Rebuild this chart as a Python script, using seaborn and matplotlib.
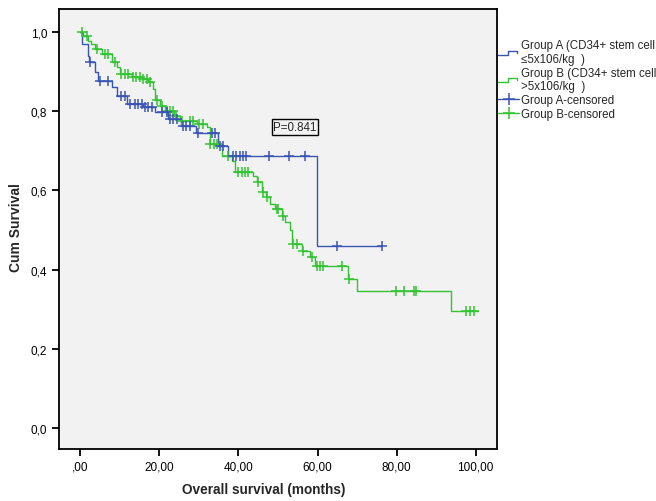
import numpy as np
import pandas as pd
import matplotlib
matplotlib.use("Agg")
import matplotlib.pyplot as plt
from matplotlib.lines import Line2D
from matplotlib.legend_handler import HandlerBase
import seaborn as sns

# ---------------- data ----------------
# Group A: step times and survival after each step
a_times = [0.0, 0.3, 2.0, 2.3, 3.7, 4.5, 7.9, 9.2, 11.7, 15.9, 18.9, 22.2, 25.5,
           29.2, 34.9, 37.4, 59.8, 76.3]
a_surv = [1.0, 0.97, 0.94, 0.923, 0.90, 0.877, 0.861, 0.839, 0.818, 0.810, 0.797,
          0.780, 0.763, 0.745, 0.713, 0.687, 0.459, 0.459]
a_cens = [2.4, 4.9, 7.0, 10.4, 11.3, 12.5, 13.8, 14.6, 15.5, 16.3, 17.2, 18.0,
          20.6, 21.8, 22.7, 23.5, 24.4, 26.0, 26.8, 27.7, 29.8, 33.2, 34.0, 35.3,
          36.0, 38.6, 39.4, 40.4, 41.2, 42.0, 47.7, 52.8, 56.8, 65.0, 76.3]

# Group B
b_times = [0.0, 0.7, 2.0, 2.8, 3.6, 5.4, 7.9, 9.2, 10.0, 13.0, 15.5, 17.2, 18.4,
           18.9, 20.1, 21.4, 23.8, 25.2, 29.5, 32.0, 32.8, 35.8, 38.3, 39.1, 43.7,
           44.6, 45.9, 47.0, 48.0, 49.3, 51.0, 51.8, 53.0, 53.5, 56.0, 58.1, 59.4,
           67.8, 69.9, 93.8, 100.5]
b_surv = [1.0, 0.99, 0.978, 0.97, 0.957, 0.944, 0.923, 0.911, 0.894, 0.886, 0.881,
          0.873, 0.856, 0.827, 0.814, 0.800, 0.789, 0.776, 0.767, 0.759, 0.717,
          0.688, 0.675, 0.646, 0.637, 0.620, 0.595, 0.583, 0.566, 0.553, 0.536,
          0.519, 0.500, 0.465, 0.448, 0.431, 0.410, 0.376, 0.345, 0.296, 0.296]
b_cens = [0.3, 1.6, 4.1, 6.2, 7.0, 8.7, 10.4, 11.2, 12.1, 13.3, 14.2, 15.0, 15.8,
          16.8, 17.6, 19.3, 20.6, 21.8, 22.6, 23.5, 24.2, 25.6, 27.7, 28.5, 30.0,
          31.0, 32.9, 33.7, 34.5, 37.3, 40.0, 40.8, 41.6, 42.4, 45.0, 46.3, 47.2,
          49.7, 50.1, 51.3, 53.9, 54.7, 56.4, 58.5, 59.8, 60.6, 61.5, 66.1, 68.0,
          79.8, 81.9, 84.3, 84.9, 97.6, 98.6, 99.6]

group_labels = ["Group A (CD34+ stem cell\n≤5x106/kg  )",
                "Group B (CD34+ stem cell\n>5x106/kg  )",
                "Group A-censored", "Group B-censored"]
x_ticks = [0, 20, 40, 60, 80, 100]
x_ticklabels = [",00", "20,00", "40,00", "60,00", "80,00", "100,00"]
y_ticks = [0.0, 0.2, 0.4, 0.6, 0.8, 1.0]
y_ticklabels = ["0,0", "0,2", "0,4", "0,6", "0,8", "1,0"]
p_text = "P=0.841"

BLUE = "#3a55b4"
GREEN = "#33c433"

def step_value(times, surv, t):
    idx = np.searchsorted(np.asarray(times), t, side="right") - 1
    return np.asarray(surv)[np.clip(idx, 0, len(surv) - 1)]

curve_a = pd.DataFrame({"t": a_times, "s": a_surv})
curve_b = pd.DataFrame({"t": b_times, "s": b_surv})
cens_a = pd.DataFrame({"t": a_cens, "s": step_value(a_times, a_surv, a_cens)})
cens_b = pd.DataFrame({"t": b_cens, "s": step_value(b_times, b_surv, b_cens)})

# ---------------- figure ----------------
sns.set_style("ticks")
plt.rcParams["font.family"] = ["Liberation Sans", "DejaVu Sans"]

fig = plt.figure(figsize=(6.56, 5.02), dpi=100)
ax = fig.add_axes([59 / 656, 1 - 450 / 502, (497 - 59) / 656, 440 / 502])
ax.set_facecolor("#f2f2f2")

sns.lineplot(data=curve_b, x="t", y="s", ax=ax, color=GREEN, lw=1.0,
             drawstyle="steps-post", estimator=None, sort=False, zorder=3)
sns.lineplot(data=curve_a, x="t", y="s", ax=ax, color=BLUE, lw=1.0,
             drawstyle="steps-post", estimator=None, sort=False, zorder=4)
sns.scatterplot(data=cens_b, x="t", y="s", ax=ax, marker="+", color=GREEN,
                s=55, linewidth=1.1, zorder=5)
sns.scatterplot(data=cens_a, x="t", y="s", ax=ax, marker="+", color=BLUE,
                s=55, linewidth=1.1, zorder=6)

ax.set_xlim(-5.4, 105.4)
ax.set_ylim(-0.053, 1.058)
ax.set_xticks(x_ticks)
ax.set_xticklabels(x_ticklabels)
ax.set_yticks(y_ticks)
ax.set_yticklabels(y_ticklabels)
ax.tick_params(direction="out", length=5, width=1.3, labelsize=8.5, color="black",
               labelcolor="black")
for sp in ax.spines.values():
    sp.set_visible(True)
    sp.set_color("black")
    sp.set_linewidth(1.3)

ax.set_xlabel("Overall survival (months)", fontsize=9.8, fontweight="bold")
ax.set_ylabel("Cum Survival", fontsize=10, fontweight="bold")
ax.xaxis.set_label_coords((264 - 59) / 438, (450 - 483) / 440)
ax.yaxis.set_label_coords((23 - 59) / 438, (450 - 228) / 440)

ax.text(54.3, 0.76, p_text, fontsize=8.3, ha="center", va="center",
        bbox=dict(boxstyle="square,pad=0.15", fc="none", ec="black", lw=1.0))


class StepHandler(HandlerBase):
    def create_artists(self, legend, orig_handle, xdescent, ydescent,
                       width, height, fontsize, trans):
        x0 = -xdescent
        y0 = -ydescent
        xs = np.array([0.0, 0.45, 0.45, 0.9, 0.9]) * width + x0
        ys = np.array([0.25, 0.25, 0.75, 0.75, 0.45]) * height + y0
        ln = Line2D(xs, ys, color=orig_handle.get_color(), lw=1.0)
        ln.set_transform(trans)
        return [ln]


class StepLine(Line2D):
    pass


h_a = StepLine([], [], color=BLUE)
h_b = StepLine([], [], color=GREEN)
h_ca = Line2D([], [], color=BLUE, lw=1.0, marker="+", markersize=9, markeredgewidth=1.1)
h_cb = Line2D([], [], color=GREEN, lw=1.0, marker="+", markersize=9, markeredgewidth=1.1)

leg = fig.legend([h_a, h_b, h_ca, h_cb], group_labels,
                 loc="upper left", bbox_to_anchor=(497 / 656, 1 - 39 / 502),
                 frameon=False, fontsize=8.3, handlelength=1.85, handletextpad=0.15,
                 labelspacing=0.15, borderaxespad=0, borderpad=0.1,
                 handler_map={StepLine: StepHandler()})

fig.savefig("out.png", dpi=100, facecolor="white")
